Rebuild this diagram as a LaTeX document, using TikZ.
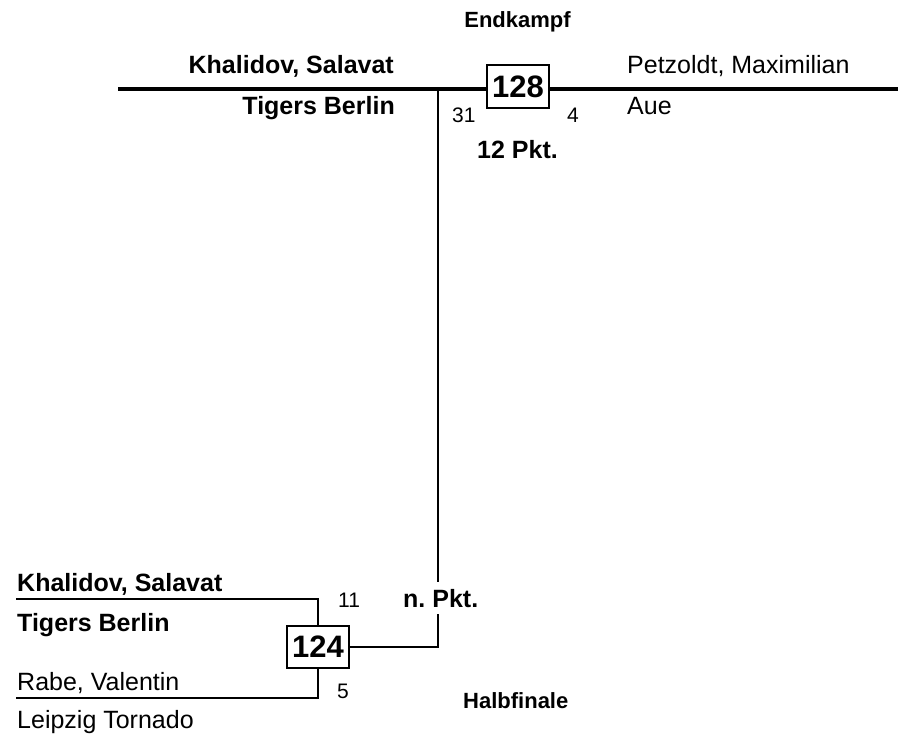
\documentclass[tikz,border=0pt]{standalone}
\usepackage{fontspec}
\setmainfont{Liberation Sans}
\frenchspacing
\begin{document}
\begin{tikzpicture}[x=1pt,y=-1pt,
  lbl/.style={inner sep=0pt,font=\fontsize{25}{30}\selectfont},
  lblb/.style={inner sep=0pt,font=\fontsize{25}{30}\selectfont\bfseries},
  stage/.style={inner sep=0pt,font=\fontsize{22}{26}\selectfont\bfseries},
  score/.style={inner sep=0pt,font=\fontsize{21}{25}\selectfont},
  matchbox/.style={draw,line width=1.8pt,fill=white,minimum width=62pt,minimum height=43pt,inner sep=0pt,font=\fontsize{31}{36}\selectfont\bfseries},
  heavy/.style={line width=3.2pt},
  mid/.style={line width=2.6pt},
  thin/.style={line width=2pt}]
\useasboundingbox (0,0) rectangle (908,738);
% top final
\coordinate (tl) at (118,89);
\coordinate (tr) at (898,89);
\coordinate (j) at (438,89);
\node[matchbox] (b128) at (518,86.5) {128};
\draw[heavy] (tl) -- (tl -| b128.west);
\draw[heavy] (tr -| b128.east) -- (tr);
\node[stage,anchor=base] (endk) at (517.5,28) {Endkampf};
\node[lblb,anchor=base east] (n1) at (394,74) {Khalidov, Salavat};
\node[lblb,anchor=base east] (c1) at (395,115) {Tigers Berlin};
\node[lbl,anchor=base west] (n2) at (627,74) {Petzoldt, Maximilian};
\node[lbl,anchor=base west] (c2) at (627,115) {Aue};
\node[score,anchor=base west] (s1) at (452,123) {31};
\node[score,anchor=base west] (s2) at (567,123) {4};
\node[lblb,anchor=base west] (r1) at (477,159) {12 Pkt.};
% semifinal
\node[matchbox,minimum height=42pt] (b124) at (318,647) {124};
\coordinate (u1) at (16,599);
\coordinate (u2) at (16,698);
\draw[mid] (u1) -| (b124.north);
\draw[mid] (u2) -| (b124.south);
\node[lblb,anchor=base west] (n3) at (17,591) {Khalidov, Salavat};
\node[lblb,anchor=base west] (c3) at (17,631) {Tigers Berlin};
\node[lbl,anchor=base west] (n4) at (17,690) {Rabe, Valentin};
\node[lbl,anchor=base west] (c4) at (17,728) {Leipzig Tornado};
\node[score,anchor=base west] (s3) at (338,607) {11};
\node[score,anchor=base west] (s4) at (337,698) {5};
\node[lblb,anchor=base west,inner ysep=7pt] (npkt) at (403,607) {n. Pkt.};
\node[stage,anchor=base west] (halb) at (463,708) {Halbfinale};
% connector
\draw[thin] (j) -- (j |- npkt.north);
\draw[mid] (j |- npkt.south) |- (b124.east);
\end{tikzpicture}
\end{document}
